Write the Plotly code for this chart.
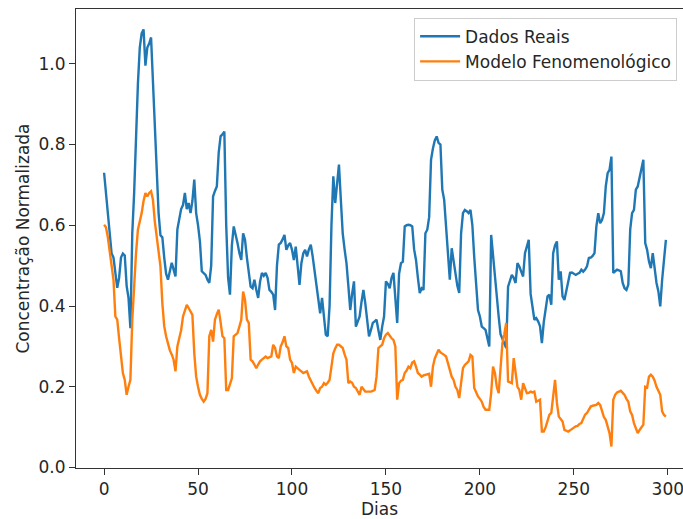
import plotly.graph_objects as go

dias = list(range(300))

dados_reais = [
    0.73, 0.68, 0.61, 0.56, 0.53, 0.52, 0.48, 0.445, 0.47, 0.52,
    0.53, 0.525, 0.45, 0.42, 0.345, 0.58, 0.68, 0.84, 0.95, 1.04,
    1.075, 1.085, 0.995, 1.04, 1.05, 1.065, 0.95, 0.83, 0.72, 0.63,
    0.575, 0.57, 0.52, 0.48, 0.465, 0.49, 0.507, 0.49, 0.473, 0.59,
    0.62, 0.64, 0.65, 0.68, 0.64, 0.655, 0.63, 0.66, 0.713, 0.63,
    0.6, 0.56, 0.486, 0.48, 0.477, 0.465, 0.457, 0.5, 0.671, 0.685,
    0.696, 0.78, 0.82, 0.825, 0.832, 0.6, 0.47, 0.428, 0.55, 0.597,
    0.58, 0.556, 0.531, 0.514, 0.58, 0.564, 0.52, 0.49, 0.448, 0.444,
    0.465, 0.44, 0.42, 0.46, 0.482, 0.475, 0.482, 0.47, 0.44, 0.435,
    0.428, 0.39, 0.5, 0.552, 0.556, 0.565, 0.576, 0.539, 0.55, 0.556,
    0.539, 0.514, 0.547, 0.5, 0.452, 0.506, 0.53, 0.539, 0.523, 0.54,
    0.552, 0.523, 0.49, 0.457, 0.42, 0.382, 0.42, 0.37, 0.329, 0.325,
    0.4, 0.6, 0.721, 0.655, 0.7, 0.75, 0.663, 0.58, 0.54, 0.506,
    0.45, 0.39, 0.43, 0.461, 0.349, 0.36, 0.374, 0.41, 0.44, 0.407,
    0.37, 0.325, 0.34, 0.358, 0.362, 0.366, 0.34, 0.316, 0.349, 0.374,
    0.461, 0.455, 0.444, 0.47, 0.482, 0.42, 0.358, 0.48, 0.506, 0.51,
    0.597, 0.6, 0.601, 0.6, 0.597, 0.54, 0.514, 0.47, 0.432, 0.444,
    0.44, 0.58, 0.589, 0.62, 0.762, 0.79, 0.81, 0.82, 0.804, 0.8,
    0.688, 0.663, 0.6, 0.531, 0.465, 0.543, 0.51, 0.482, 0.45, 0.432,
    0.58, 0.63, 0.638, 0.635, 0.63, 0.638, 0.6, 0.52, 0.448, 0.39,
    0.374, 0.349, 0.345, 0.341, 0.32, 0.3, 0.576, 0.52, 0.465, 0.41,
    0.374, 0.33, 0.32, 0.308, 0.296, 0.448, 0.465, 0.477, 0.47, 0.457,
    0.506, 0.498, 0.485, 0.473, 0.531, 0.55, 0.564, 0.43, 0.4, 0.366,
    0.37, 0.362, 0.35, 0.308, 0.36, 0.4, 0.424, 0.428, 0.403, 0.531,
    0.55, 0.56, 0.465, 0.486, 0.424, 0.415, 0.44, 0.465, 0.482, 0.483,
    0.48, 0.477, 0.48, 0.482, 0.49, 0.485, 0.49, 0.498, 0.519, 0.52,
    0.524, 0.531, 0.597, 0.63, 0.605, 0.613, 0.63, 0.696, 0.729, 0.737,
    0.77, 0.482, 0.486, 0.49, 0.488, 0.486, 0.457, 0.444, 0.44, 0.453,
    0.589, 0.63, 0.638, 0.688, 0.696, 0.721, 0.74, 0.762, 0.556, 0.539,
    0.51, 0.494, 0.531, 0.49, 0.457, 0.436, 0.399, 0.465, 0.52, 0.564,
]

modelo_fenomenologico = [
    0.601, 0.595, 0.57, 0.539, 0.5, 0.465, 0.374, 0.366, 0.32, 0.28,
    0.234, 0.217, 0.18, 0.2, 0.217, 0.366, 0.457, 0.531, 0.589, 0.609,
    0.63, 0.66, 0.68, 0.671, 0.68, 0.684, 0.663, 0.609, 0.572, 0.53,
    0.498, 0.407, 0.35, 0.325, 0.304, 0.29, 0.28, 0.267, 0.238, 0.3,
    0.32, 0.34, 0.374, 0.39, 0.403, 0.395, 0.385, 0.378, 0.283, 0.225,
    0.2, 0.18, 0.17, 0.163, 0.17, 0.184, 0.325, 0.341, 0.312, 0.366,
    0.38, 0.391, 0.36, 0.325, 0.32, 0.192, 0.192, 0.209, 0.221, 0.325,
    0.33, 0.333, 0.349, 0.366, 0.436, 0.415, 0.366, 0.358, 0.267, 0.263,
    0.255, 0.246, 0.255, 0.263, 0.267, 0.27, 0.275, 0.271, 0.273, 0.275,
    0.304, 0.296, 0.275, 0.271, 0.3, 0.31, 0.325, 0.3, 0.296, 0.267,
    0.259, 0.234, 0.25, 0.245, 0.242, 0.238, 0.234, 0.236, 0.238, 0.225,
    0.215, 0.209, 0.197, 0.19, 0.184, 0.197, 0.2, 0.209, 0.205, 0.21,
    0.217, 0.25, 0.283, 0.295, 0.304, 0.304, 0.3, 0.296, 0.28, 0.267,
    0.209, 0.213, 0.21, 0.2, 0.197, 0.188, 0.18, 0.2, 0.195, 0.188,
    0.188, 0.188, 0.188, 0.19, 0.192, 0.225, 0.296, 0.3, 0.304, 0.32,
    0.329, 0.333, 0.325, 0.32, 0.316, 0.3, 0.168, 0.209, 0.215, 0.217,
    0.234, 0.24, 0.25, 0.246, 0.26, 0.263, 0.25, 0.234, 0.23, 0.225,
    0.228, 0.23, 0.232, 0.232, 0.2, 0.25, 0.27, 0.283, 0.292, 0.285,
    0.283, 0.279, 0.275, 0.26, 0.242, 0.225, 0.217, 0.2, 0.192, 0.172,
    0.209, 0.246, 0.254, 0.26, 0.263, 0.279, 0.275, 0.197, 0.185, 0.176,
    0.17, 0.163, 0.15, 0.143, 0.143, 0.143, 0.184, 0.25, 0.234, 0.2,
    0.184, 0.25, 0.308, 0.33, 0.358, 0.213, 0.21, 0.209, 0.271, 0.234,
    0.2, 0.192, 0.168, 0.209, 0.195, 0.184, 0.185, 0.188, 0.186, 0.188,
    0.163, 0.165, 0.168, 0.089, 0.089, 0.1, 0.118, 0.131, 0.135, 0.176,
    0.217, 0.16, 0.126, 0.12, 0.114, 0.093, 0.09, 0.089, 0.092, 0.095,
    0.1, 0.102, 0.103, 0.108, 0.11, 0.12, 0.131, 0.135, 0.145, 0.151,
    0.153, 0.154, 0.155, 0.16, 0.155, 0.14, 0.125, 0.118, 0.102, 0.085,
    0.052, 0.168, 0.18, 0.186, 0.188, 0.19, 0.185, 0.18, 0.17, 0.163,
    0.139, 0.13, 0.11, 0.095, 0.085, 0.093, 0.1, 0.106, 0.2, 0.198,
    0.225, 0.23, 0.225, 0.215, 0.2, 0.19, 0.18, 0.139, 0.13, 0.126,
]

x_ticks = [0, 50, 100, 150, 200, 250, 300]
y_ticks = [0.0, 0.2, 0.4, 0.6, 0.8, 1.0]
y_tick_labels = ["0.0", "0.2", "0.4", "0.6", "0.8", "1.0"]

FONT = "DejaVu Sans"
FS = 17

fig = go.Figure()
fig.add_trace(go.Scatter(x=dias, y=dados_reais, mode="lines", name="Dados Reais",
                         line=dict(color="#1f77b4", width=2.4)))
fig.add_trace(go.Scatter(x=dias, y=modelo_fenomenologico, mode="lines",
                         name="Modelo Fenomenológico",
                         line=dict(color="#ff7f0e", width=2.4)))

fig.update_layout(
    width=683, height=519,
    margin=dict(l=76, r=0, t=9, b=51),
    paper_bgcolor="white", plot_bgcolor="white",
    font=dict(family=FONT, size=FS, color="#262626"),
    showlegend=True,
    legend=dict(x=0.557, y=0.981, xanchor="left", yanchor="top",
                bordercolor="#cccccc", borderwidth=1, bgcolor="rgba(255,255,255,0.8)",
                font=dict(family=FONT, size=FS, color="#262626"),
                tracegroupgap=0, itemwidth=40),
    xaxis=dict(range=[-14.95, 308.1], tickvals=x_ticks, ticks="outside", ticklen=6,
               tickcolor="#333", showline=True, linecolor="#333", linewidth=1,
               mirror=True, showgrid=False, zeroline=False, automargin=False,
               ticklabeloverflow="allow",
               tickfont=dict(family=FONT, size=FS),
               title=dict(text="Dias", standoff=2, font=dict(family=FONT, size=FS))),
    yaxis=dict(range=[-0.0012, 1.1355], tickvals=y_ticks, ticktext=y_tick_labels,
               ticks="outside", ticklen=6, tickcolor="#333", showline=True,
               linecolor="#333", linewidth=1, showgrid=False, zeroline=False,
               automargin=False, tickfont=dict(family=FONT, size=FS),
               title=dict(text="Concentração Normalizada", standoff=4,
                          font=dict(family=FONT, size=FS))),
)

fig.write_html("out.html")
